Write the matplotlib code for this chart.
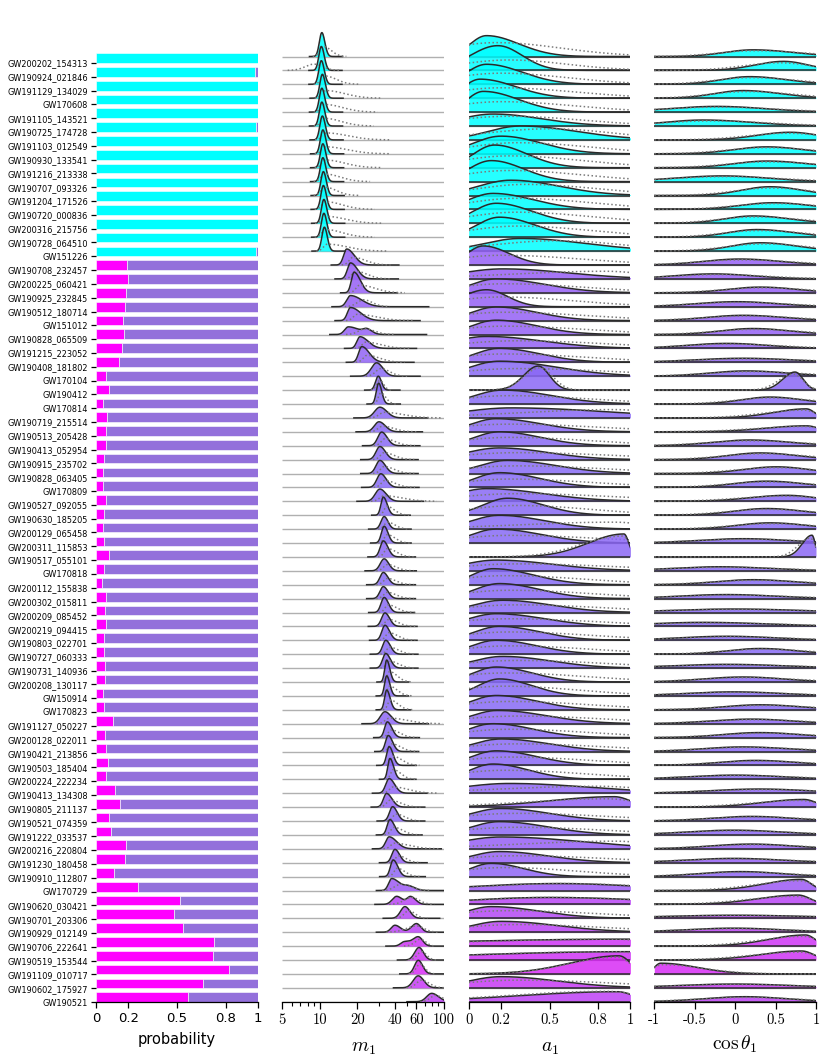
import numpy as np
import matplotlib
matplotlib.use("Agg")
import matplotlib.pyplot as plt
from matplotlib.ticker import FixedLocator, NullFormatter

plt.rcParams['mathtext.fontset'] = 'cm'

# ---------------- data ----------------
names = ["GW200202_154313", "GW190924_021846", "GW191129_134029", "GW170608", "GW191105_143521",
         "GW190725_174728", "GW191103_012549", "GW190930_133541", "GW191216_213338", "GW190707_093326",
         "GW191204_171526", "GW190720_000836", "GW200316_215756", "GW190728_064510", "GW151226",
         "GW190708_232457", "GW200225_060421", "GW190925_232845", "GW190512_180714", "GW151012",
         "GW190828_065509", "GW191215_223052", "GW190408_181802", "GW170104", "GW190412",
         "GW170814", "GW190719_215514", "GW190513_205428", "GW190413_052954", "GW190915_235702",
         "GW190828_063405", "GW170809", "GW190527_092055", "GW190630_185205", "GW200129_065458",
         "GW200311_115853", "GW190517_055101", "GW170818", "GW200112_155838", "GW200302_015811",
         "GW200209_085452", "GW200219_094415", "GW190803_022701", "GW190727_060333", "GW190731_140936",
         "GW200208_130117", "GW150914", "GW170823", "GW191127_050227", "GW200128_022011",
         "GW190421_213856", "GW190503_185404", "GW200224_222234", "GW190413_134308", "GW190805_211137",
         "GW190521_074359", "GW191222_033537", "GW200216_220804", "GW191230_180458", "GW190910_112807",
         "GW170729", "GW190620_030421", "GW190701_203306", "GW190929_012149", "GW190706_222641",
         "GW190519_153544", "GW191109_010717", "GW190602_175927", "GW190521"]

p_cyan = [1.0, 0.984, 1.0, 1.0, 1.0, 0.99, 1.0, 1.0, 1.0, 1.0, 1.0, 1.0, 1.0, 1.0, 0.99] + [0.0] * 54
p_mag = [0.0] * 15 + [
    0.19, 0.198, 0.185, 0.18, 0.169, 0.171, 0.16, 0.14, 0.06, 0.08,
    0.043, 0.068, 0.06, 0.06, 0.049, 0.043, 0.043, 0.062, 0.047, 0.043,
    0.049, 0.082, 0.047, 0.039, 0.062, 0.056, 0.06, 0.049, 0.049, 0.056,
    0.053, 0.043, 0.051, 0.105, 0.058, 0.064, 0.074, 0.06, 0.117, 0.148,
    0.08, 0.093, 0.185, 0.179, 0.111, 0.257, 0.52, 0.48, 0.54, 0.726,
    0.724, 0.82, 0.66, 0.568]

# m1 posterior (solid): mode [Msun], left / right width [dex], peak height [rows]
m1_post = [
    (10.4, .02, .024, 1.72), (10.3, .02, .024, 1.72), (10.3, .02, .024, 1.70), (10.5, .02, .024, 1.72),
    (10.4, .02, .024, 1.72), (10.4, .02, .024, 1.72), (10.5, .02, .024, 1.72), (10.6, .02, .024, 1.72),
    (10.6, .02, .024, 1.72), (10.6, .02, .024, 1.72), (10.7, .02, .024, 1.72), (10.7, .02, .024, 1.72),
    (10.8, .02, .024, 1.72), (10.8, .02, .024, 1.72), (10.9, .02, .024, 1.72),
    (16.5, .025, .06, 1.15), (17.7, .025, .055, 1.15), (18.9, .022, .05, 1.48), (17.7, .03, .09, 0.8),
    (17.7, .025, .08, 0.94), (17.0, .03, .09, 0.55), (21.1, .025, .065, 0.84), (21.8, .025, .06, 1.13),
    (28.7, .042, .05, 0.96), (29.6, .022, .025, 1.0), (29.8, .019, .025, 1.5), (30.5, .042, .055, 0.77),
    (30.0, .037, .05, 0.72), (31.5, .031, .044, 0.98), (30.5, .031, .044, 0.94), (30.5, .031, .044, 0.94),
    (31.0, .031, .044, 0.98), (30.5, .037, .05, 0.88), (32.5, .019, .031, 1.3), (33.0, .025, .031, 0.9),
    (33.0, .022, .031, 1.2), (32.5, .025, .037, 1.15), (33.0, .031, .037, 0.86), (32.5, .027, .037, 0.88),
    (32.5, .027, .037, 0.86), (33.0, .025, .035, 1.08), (33.5, .027, .037, 0.97), (33.5, .025, .037, 1.08),
    (34.0, .025, .037, 1.0), (34.0, .025, .037, 1.05), (34.6, .016, .025, 1.58), (34.6, .017, .025, 1.44),
    (34.6, .017, .027, 1.42), (33.5, .037, .05, 0.86), (35.0, .022, .037, 1.13), (35.6, .022, .035, 1.15),
    (36.2, .02, .031, 1.35), (36.7, .017, .03, 1.5), (36.2, .027, .044, 1.05), (34.5, .025, .044, 0.98),
    (38.6, .025, .037, 1.03), (36.7, .022, .037, 1.1), (36.2, .027, .06, 0.86), (40.3, .025, .037, 0.96),
    (39.0, .022, .037, 1.2), (38.0, .025, .06, 0.86), (41.6, .035, .045, 0.58), (48.5, .035, .04, 0.84),
    (40.3, .03, .045, 0.5), (62.0, .045, .035, 0.67), (63.0, .035, .035, 0.9), (62.1, .03, .035, 0.98),
    (62.0, .04, .045, 0.86), (79.6, .04, .055, 0.6)]

# second mode of a few m1 posteriors: row -> (mode, left dex, right dex, height)
m1_second = {20: (24.0, .03, .04, 0.3), 60: (52.0, .04, .05, 0.3), 61: (54.0, .03, .04, 0.55),
             63: (60.0, .04, .035, 0.62), 64: (48.0, .03, .04, 0.3)}

# m1 second estimate (dotted)
m1_alt = [
    (10.8, .03, .06, 0.7), (9.0, .07, .07, 0.45), (11.0, .03, .09, 0.6), (11.2, .03, .15, 0.55),
    (11.0, .03, .14, 0.55), (11.0, .03, .13, 0.55), (11.3, .03, .17, 0.5), (11.2, .03, .17, 0.5),
    (11.2, .03, .15, 0.55), (11.0, .03, .12, 0.55), (11.0, .03, .09, 0.6), (11.2, .03, .13, 0.55),
    (11.3, .03, .15, 0.5), (11.2, .03, .13, 0.55), (11.5, .03, .16, 0.5),
    (18.5, .03, .1, 0.55), (19.5, .03, .09, 0.55), (21.0, .03, .12, 0.55), (22.5, .05, .07, 0.5),
    (20.0, .03, .15, 0.45), (23.0, .05, .08, 0.4), (23.5, .03, .12, 0.45), (24.0, .03, .1, 0.5),
    (31.0, .04, .07, 0.55), (30.5, .025, .03, 0.7), (31.0, .02, .04, 0.8), (33.0, .04, .15, 0.4),
    (32.0, .035, .09, 0.4), (33.5, .03, .08, 0.5), (33.0, .03, .08, 0.5), (33.0, .03, .08, 0.5),
    (33.5, .03, .08, 0.5), (33.0, .035, .14, 0.4), (34.5, .02, .06, 0.65), (35.0, .025, .06, 0.5),
    (35.0, .025, .06, 0.6), (35.0, .025, .07, 0.6), (35.0, .03, .07, 0.45), (35.0, .03, .07, 0.45),
    (35.0, .03, .07, 0.45), (35.5, .025, .07, 0.55), (36.0, .03, .07, 0.5), (36.0, .025, .07, 0.55),
    (36.5, .025, .07, 0.5), (36.5, .025, .07, 0.5), (36.5, .02, .06, 0.75), (36.5, .02, .06, 0.7),
    (37.0, .02, .06, 0.7), (36.5, .035, .14, 0.4), (37.5, .025, .07, 0.55), (38.0, .025, .07, 0.55),
    (39.0, .02, .07, 0.65), (39.0, .02, .06, 0.7), (39.0, .03, .12, 0.45), (37.0, .03, .08, 0.5),
    (41.0, .025, .07, 0.5), (39.5, .025, .07, 0.55), (40.0, .03, .12, 0.4), (43.0, .025, .06, 0.5),
    (42.0, .025, .06, 0.6), (45.0, .05, .08, 0.45), (55.0, .06, .06, 0.5), (52.0, .035, .05, 0.55),
    (60.0, .08, .06, 0.45), (65.0, .045, .04, 0.5), (66.0, .035, .04, 0.6), (64.0, .03, .04, 0.7),
    (66.0, .04, .06, 0.55), (85.0, .04, .06, 0.45)]

# a1 posterior (solid): mode, left width, right width, height [rows]
a1_post = [
    (.11, .1, .2, 1.5), (.18, .17, .15, 1.78), (.11, .12, .22, 1.44), (.07, .1, .22, 1.37),
    (.09, .1, .22, 1.49), (.15, .2, .3, 0.86), (.32, .2, .35, 1.0), (.2, .17, .25, 1.27),
    (.16, .13, .2, 1.63), (.14, .14, .2, 1.51), (.26, .2, .3, 1.1), (.15, .15, .25, 1.15),
    (.17, .14, .22, 1.44), (.19, .14, .22, 1.44), (.32, .22, .4, 0.91),
    (.09, .1, .16, 1.37), (.21, .25, .4, 0.72), (.17, .15, .3, 1.0), (.11, .15, .13, 1.22),
    (.17, .15, .25, 0.98), (.17, .15, .25, 1.03), (.11, .2, .35, 0.86), (.19, .15, .25, 1.0),
    (.19, .18, .35, 1.08), (.43, .09, .07, 1.73), (.21, .17, .3, 1.0), (.26, .3, .6, 0.72),
    (.17, .15, .28, 0.94), (.19, .15, .25, 1.0), (.19, .2, .3, 0.84), (.24, .17, .3, 0.94),
    (.19, .15, .25, 1.06), (.11, .18, .35, 0.91), (.24, .15, .22, 1.22), (.19, .17, .28, 0.99),
    (.17, .15, .28, 1.0), (.96, .22, .03, 1.65), (.17, .2, .35, 0.77), (.15, .13, .25, 1.15),
    (.19, .15, .25, 1.08), (.21, .18, .3, 0.88), (.17, .17, .3, 0.91), (.19, .15, .25, 1.0),
    (.17, .15, .25, 1.0), (.21, .18, .3, 0.84), (.17, .14, .22, 1.08), (.19, .13, .2, 1.22),
    (.17, .15, .25, 1.03), (.18, .16, .3, 0.95), (.15, .15, .25, 1.0), (.2, .17, .3, 0.9),
    (.17, .15, .25, 1.05), (.15, .14, .22, 1.1), (.25, .3, .5, 0.7), (.9, .4, .1, 0.75),
    (.2, .18, .3, 0.9), (.19, .17, .3, 0.95), (.2, .25, .5, 0.85), (.19, .17, .3, 0.8),
    (.14, .13, .2, 0.95), (.55, .5, .5, 0.5), (.5, .5, .6, 0.5), (.14, .15, .3, 0.84),
    (.2, .18, .35, 0.78), (1.0, 1.2, .1, 0.5), (1.0, 1.0, .1, 0.6), (.93, .3, .07, 1.3),
    (.2, .2, .35, 0.8), (.92, .6, .1, 0.72)]

a1_alt = [
    (.17, .3, .4, 1.0), (.25, .3, .35, .75), (.2, .3, .4, .8), (.2, .3, .45, .75), (.2, .3, .45, .75),
    (.25, .35, .45, .7), (.5, .4, .4, .8), (.3, .3, .45, .8), (.25, .3, .45, .85), (.25, .3, .45, .8),
    (.35, .3, .45, .8), (.3, .3, .45, .8), (.3, .3, .45, .8), (.3, .3, .45, .8), (.55, .4, .4, .75),
    (.2, .3, .5, .7), (.85, .6, .25, .55), (.22, .3, .5, .65), (.2, .3, .45, .7), (.22, .3, .5, .6),
    (.22, .3, .5, .6), (.3, .35, .55, .55), (.22, .3, .5, .6), (.3, .35, .6, .55), (.44, .1, .08, 1.6),
    (.25, .3, .5, .6), (.9, .6, .25, .6), (.25, .35, .55, .55), (.25, .3, .5, .6), (.3, .35, .6, .5),
    (.3, .35, .55, .55), (.25, .3, .5, .6), (.3, .35, .6, .55), (.3, .3, .45, .7), (.9, .6, .2, .5),
    (.25, .3, .55, .55), (.95, .25, .05, 1.5), (.3, .35, .6, .5), (.22, .3, .5, .65), (.25, .3, .5, .6),
    (.3, .35, .55, .55), (.25, .35, .55, .55), (.25, .3, .5, .6), (.25, .3, .5, .6), (.3, .35, .55, .55),
    (.22, .3, .5, .65), (.22, .3, .45, .7), (.25, .3, .5, .6), (.3, .35, .55, .55), (.25, .3, .5, .6),
    (.3, .35, .55, .55), (.25, .3, .5, .6), (.22, .3, .5, .65), (.8, .6, .3, .5), (.85, .5, .2, .6),
    (.3, .35, .55, .55), (.3, .35, .55, .55), (.9, .6, .25, .55), (.3, .35, .55, .5), (.22, .3, .45, .65),
    (.6, .5, .5, .5), (.5, .5, .6, .5), (.25, .35, .55, .55), (.3, .35, .55, .55), (.9, .9, .2, .5),
    (.9, .9, .2, .6), (.92, .3, .08, 1.2), (.3, .35, .6, .55), (.85, .6, .2, .75)]

# cos(theta1) posterior (solid): mode, left width, right width, height [rows]
cos_post = [
    (.22, .35, .5, .48), (.6, .35, .3, .65), (.18, .35, .45, .55), (.1, .35, .45, .55),
    (-.23, .6, .6, .41), (-.39, .5, .6, .43), (.68, .4, .35, .55), (.39, .4, .45, .5),
    (.39, .4, .5, .48), (-.15, .6, .55, .41), (.43, .35, .4, .63), (.47, .4, .45, .48),
    (.22, .35, .45, .53), (.27, .35, .45, .55), (.31, .35, .45, .6),
    (.06, .45, .5, .43), (-.27, .5, .5, .36), (.31, .4, .45, .41), (.02, .5, .5, .36),
    (.1, .45, .5, .38), (.22, .4, .45, .43), (-.1, .5, .5, .36), (.1, .6, .6, .29),
    (.14, .45, .5, .38), (.74, .15, .1, 1.3), (.43, .35, .4, .5), (.88, .4, .1, .65),
    (.88, .5, .15, .43), (.18, .45, .5, .41), (.31, .4, .45, .48), (.51, .4, .4, .48),
    (.39, .4, .45, .45), (.64, .45, .35, .43), (.39, .4, .45, .48), (.43, .4, .45, .45),
    (.1, .55, .55, .31), (.95, .12, .04, 1.56), (-.19, .6, .6, .29), (.22, .45, .5, .36),
    (-.1, .6, .6, .29), (0.0, .8, .8, .25), (-.4, .7, .8, .29), (-.1, .6, .6, .29),
    (.31, .4, .45, .41), (-.1, .7, .7, .27), (.1, .5, .5, .36), (-.02, .6, .6, .29),
    (.31, .45, .5, .36), (.2, .5, .5, .33), (.3, .45, .5, .36), (.1, .5, .55, .33),
    (.25, .45, .5, .36), (0.0, .6, .6, .3), (.3, .6, .6, .3), (.85, .5, .15, .55),
    (.2, .5, .5, .33), (-.02, .6, .6, .34), (.2, .5, .5, .34), (-.02, .6, .6, .31),
    (.07, .5, .5, .36), (.82, .45, .12, .8), (.78, .5, .15, .67), (0.0, .9, .9, .22),
    (-.02, .6, .6, .29), (.87, .45, .12, .8), (.82, .5, .15, .65), (-.92, .08, .45, .77),
    (0.0, .7, .7, .27), (.12, .5, .5, .36)]

cos_alt = [
    (.25, .45, .6, .42), (.55, .45, .4, .55), (.2, .45, .55, .48), (.15, .45, .55, .48),
    (-.2, .7, .7, .36), (-.3, .6, .7, .37), (.65, .5, .45, .48), (.4, .5, .55, .44),
    (.4, .5, .6, .42), (-.1, .7, .65, .36), (.45, .45, .5, .54), (.5, .5, .55, .42),
    (.25, .45, .55, .46), (.3, .45, .55, .48), (.35, .45, .55, .52),
    (.1, .55, .6, .37), (-.2, .6, .6, .31), (.35, .5, .55, .36), (.05, .6, .6, .31),
    (.15, .55, .6, .33), (.25, .5, .55, .37), (-.05, .6, .6, .31), (.15, .7, .7, .25),
    (.2, .55, .6, .33), (.72, .18, .12, 1.15), (.45, .45, .5, .44), (.85, .5, .15, .56),
    (.85, .6, .2, .38), (.2, .55, .6, .35), (.35, .5, .55, .42), (.5, .5, .5, .42),
    (.4, .5, .55, .39), (.6, .55, .45, .37), (.4, .5, .55, .42), (.45, .5, .55, .39),
    (.15, .65, .65, .27), (.93, .15, .06, 1.35), (-.15, .7, .7, .25), (.25, .55, .6, .31),
    (-.05, .7, .7, .25), (0.0, .9, .9, .22), (-.3, .8, .9, .25), (-.05, .7, .7, .25),
    (.35, .5, .55, .36), (-.05, .8, .8, .23), (.15, .6, .6, .31), (0.0, .7, .7, .25),
    (.35, .55, .6, .31), (.25, .6, .6, .29), (.35, .55, .6, .31), (.15, .6, .65, .29),
    (.3, .55, .6, .31), (0.05, .7, .7, .26), (.35, .7, .7, .26), (.8, .6, .2, .48),
    (.25, .6, .6, .29), (0.0, .7, .7, .29), (.25, .6, .6, .29), (0.0, .7, .7, .27),
    (.1, .6, .6, .31), (.8, .55, .17, .7), (.75, .6, .2, .58), (0.0, 1.0, 1.0, .2),
    (0.0, .7, .7, .25), (.85, .55, .17, .7), (.8, .6, .2, .56), (-.9, .12, .5, .66),
    (0.0, .8, .8, .24), (.15, .6, .6, .31)]

bar_ticks = [0, 0.2, 0.5, 0.8, 1]
bar_ticklabels = ["0", "0.2", "0.5", "0.8", "1"]
m1_ticks = [5, 10, 20, 40, 60, 100]
m1_minor = [6, 7, 8, 9, 30, 50, 70, 80, 90]
a1_ticks = [0, 0.2, 0.5, 0.8, 1]
a1_ticklabels = ["0", "0.2", "0.5", "0.8", "1"]
cos_ticks = [-1, -0.5, 0, 0.5, 1]
cos_ticklabels = ["-1", "-0.5", "0", "0.5", "1"]

# ---------------- style ----------------
W, H = 831, 1058
C_CYAN = np.array([0, 255, 255]) / 255
C_MAG = np.array([255, 0, 255]) / 255
C_PURP = np.array([147, 112, 219]) / 255
F_CYAN = np.array([0, 255, 255]) / 255
F_PURP = np.array([130, 110, 245]) / 255
F_MAG = np.array([235, 30, 245]) / 255
DARK = "#2a2a2a"
DOT = "#7a7a7a"
BASE = "#b0b0b0"
N = len(names)

fig = plt.figure(figsize=(W / 100, H / 100), dpi=100)
fig.patch.set_facecolor("white")

# --------------- bar panel ---------------
bar_bottom_px, bar_sp = 1002.0, 13.81
bar_top_rows = 71.0
axb = fig.add_axes([96 / W, (H - bar_bottom_px) / H, 162 / W, bar_top_rows * bar_sp / H])
ks = np.arange(N)[::-1].astype(float)
pc = np.array(p_cyan)
pm = np.array(p_mag)
pp = 1 - pc - pm
axb.barh(ks, pc, height=0.7, align="edge", color=C_CYAN, edgecolor="white", linewidth=0.4)
axb.barh(ks, pm, left=pc, height=0.7, align="edge", color=C_MAG, edgecolor="white", linewidth=0.4)
axb.barh(ks, pp, left=pc + pm, height=0.7, align="edge", color=C_PURP, edgecolor="white", linewidth=0.4)
axb.set_xlim(0, 1)
axb.set_ylim(0, bar_top_rows)
axb.set_yticks(ks)
axb.set_yticklabels(names, fontsize=5.9)
axb.tick_params(axis="y", length=3.8, width=0.9, pad=2)
axb.set_xticks(bar_ticks)
axb.set_xticklabels(bar_ticklabels, fontsize=9.5)
axb.tick_params(axis="x", length=4, width=0.9, pad=3)
for s in ("top", "right", "left"):
    axb.spines[s].set_visible(False)
axb.spines["bottom"].set_linewidth(0.9)
axb.set_xlabel("probability", fontsize=10.5, labelpad=5)


def split_normal(x, mu, sl, sr):
    z = np.where(x < mu, (x - mu) / sl, (x - mu) / sr)
    return np.exp(-0.5 * z * z)


def fill_color(i):
    c = pc[i] * F_CYAN + pm[i] * F_MAG + pp[i] * F_PURP
    return np.clip(c, 0, 1)


rid_bottom_px, rid_sp = 1001.7, 13.9
rid_top_rows = 70.5
panel_lefts = [282.3, 468.7, 654.3]
panel_w = 161.7
axes = []
for left in panel_lefts:
    ax = fig.add_axes([left / W, (H - rid_bottom_px) / H, panel_w / W, rid_top_rows * rid_sp / H])
    ax.set_ylim(0, rid_top_rows)
    ax.set_yticks([])
    for s in ("top", "right", "left"):
        ax.spines[s].set_visible(False)
    ax.spines["bottom"].set_linewidth(0.9)
    ax.spines["bottom"].set_zorder(1000)
    axes.append(ax)
axm, axa, axc = axes

# ---- m1 panel ----
u = np.linspace(np.log10(5), np.log10(100), 900)
mg = 10 ** u
for i in range(N):
    k = ks[i]
    z = 2 + 4 * i
    mode, sl, sr, h = m1_post[i]
    lm = np.log10(mode)
    d = h * split_normal(u, lm, sl, sr)
    lo, hi = lm - 5 * sl, lm + 7 * sr
    if i in m1_second:
        m2, sl2, sr2, h2 = m1_second[i]
        d = d + h2 * split_normal(u, np.log10(m2), sl2, sr2)
        lo = min(lo, np.log10(m2) - 5 * sl2)
        hi = max(hi, np.log10(m2) + 7 * sr2)
    msk = (u >= lo) & (u <= hi)
    axm.plot([5, 100], [k, k], color=BASE, lw=1.0, zorder=z, solid_capstyle="butt")
    axm.fill_between(mg[msk], k, k + d[msk], color=fill_color(i), alpha=0.85, lw=0, zorder=z + 1)
    axm.plot(mg[msk], k + d[msk], color=DARK, lw=1.1, zorder=z + 2)
    md, sld, srd, hd = m1_alt[i]
    dd = hd * split_normal(u, np.log10(md), sld, srd)
    mk2 = dd > 0.01 * hd
    axm.plot(mg[mk2], k + dd[mk2], color=DOT, lw=1.1, ls=(0, (1, 1.6)), zorder=z + 2)
axm.set_xscale("log")
axm.set_xlim(5, 100)
axm.xaxis.set_major_locator(FixedLocator(m1_ticks))
axm.xaxis.set_minor_locator(FixedLocator(m1_minor))
axm.xaxis.set_minor_formatter(NullFormatter())
axm.set_xticklabels([str(t) for t in m1_ticks])

# ---- a1 and cos panels ----
for ax, post, alt, lo, hi in ((axa, a1_post, a1_alt, 0.0, 1.0), (axc, cos_post, cos_alt, -1.0, 1.0)):
    xg = np.linspace(lo, hi, 500)
    for i in range(N):
        k = ks[i]
        z = 2 + 4 * i
        mode, sl, sr, h = post[i]
        d = h * split_normal(xg, mode, sl, sr)
        ax.plot([lo, hi], [k, k], color=BASE, lw=1.0, zorder=z)
        ax.fill_between(xg, k, k + d, color=fill_color(i), alpha=0.85, lw=0, zorder=z + 1)
        ax.plot(xg, k + d, color=DARK, lw=1.1, zorder=z + 2)
        ax.plot([lo, hi], [k, k], color=DARK, lw=1.1, zorder=z + 2)
        md, sld, srd, hd = alt[i]
        dd = hd * split_normal(xg, md, sld, srd)
        ax.plot(xg, k + dd, color=DOT, lw=1.1, ls=(0, (1, 1.6)), zorder=z + 2)
    ax.set_xlim(lo, hi)

axa.set_xticks(a1_ticks)
axa.set_xticklabels(a1_ticklabels)
axc.set_xticks(cos_ticks)
axc.set_xticklabels(cos_ticklabels)

for ax in axes:
    ax.tick_params(axis="x", which="major", length=5, width=0.9, pad=3)
    ax.tick_params(axis="x", which="minor", length=2.6, width=0.8)
    for lab in ax.get_xticklabels():
        lab.set_fontfamily("cmr10")
        lab.set_fontsize(10.5)

axm.set_xlabel(r"$m_1$", fontsize=14, labelpad=8)
axa.set_xlabel(r"$a_1$", fontsize=14, labelpad=8)
axc.set_xlabel(r"$\cos\theta_1$", fontsize=14, labelpad=5)

fig.savefig("out.png", dpi=100, facecolor="white")
